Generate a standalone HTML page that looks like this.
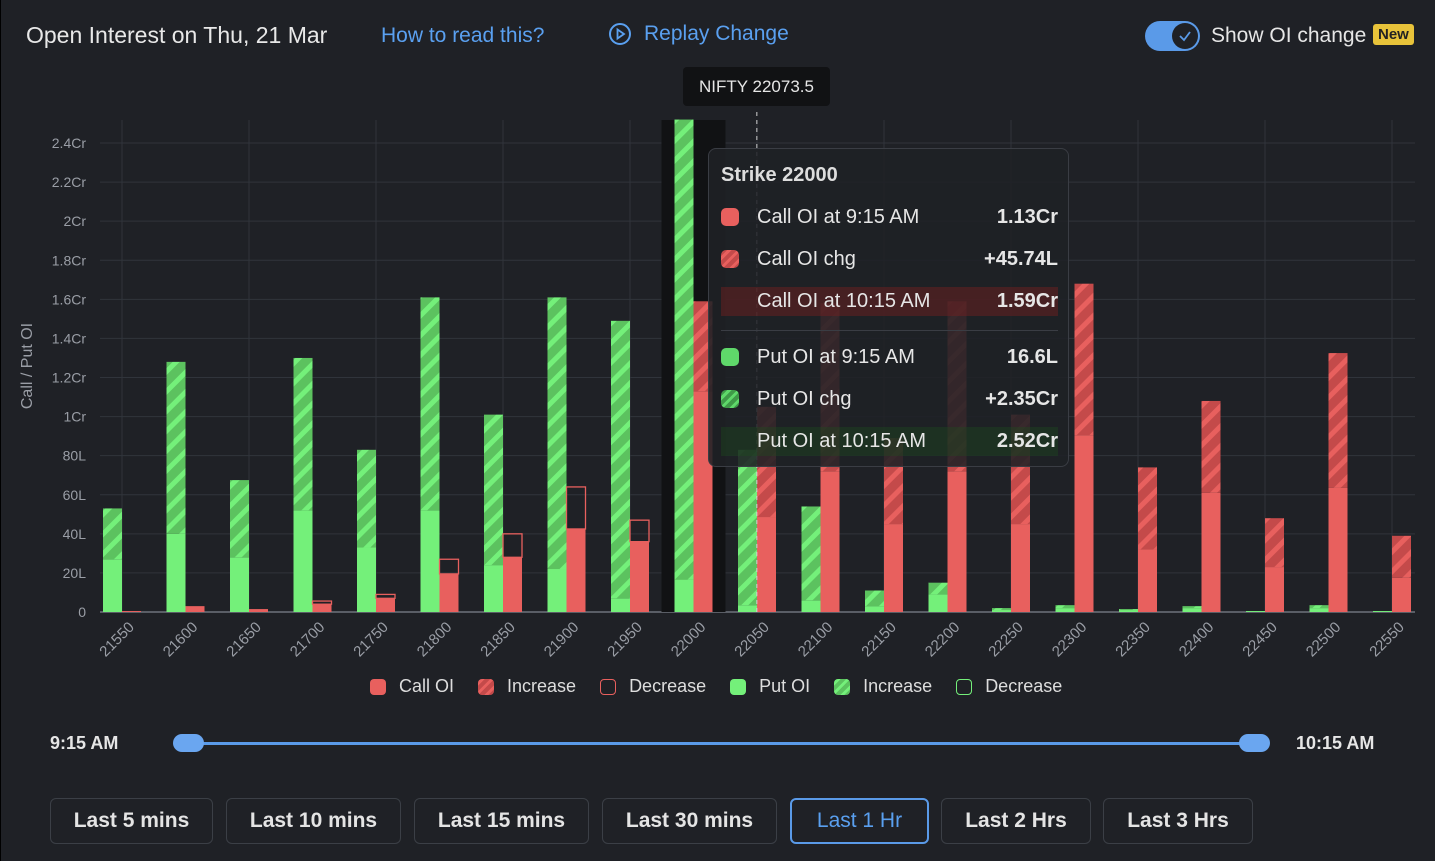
<!DOCTYPE html>
<html><head><meta charset="utf-8"><style>
body{margin:0;width:1435px;height:861px;background:#1f2126;font-family:"Liberation Sans",Roboto,sans-serif;color:#e6e6e6;overflow:hidden;position:relative}
.abs{position:absolute}
.btn{position:absolute;top:798px;height:46px;border:1px solid #3b3f46;border-radius:6px;background:#1f2126;color:#e4e4e4;font-size:21px;font-weight:bold;display:flex;align-items:center;justify-content:center;box-sizing:border-box}
</style></head><body>
<div class="abs" style="left:26px;top:22px;font-size:23px;color:#e8e8e8">Open Interest on Thu, 21 Mar</div>
<div class="abs" style="left:381px;top:24px;font-size:21px;color:#5aa0f0">How to read this?</div>
<div class="abs" style="left:608px;top:22px;font-size:21px;color:#5aa0f0;display:flex;align-items:center;gap:12px"><svg width="24" height="24"><circle cx="12" cy="12" r="10" fill="none" stroke="#5aa0f0" stroke-width="2"/><path d="M9.5 7.5L16 12L9.5 16.5Z" fill="none" stroke="#5aa0f0" stroke-width="1.8"/></svg>Replay Change</div>
<div class="abs" style="left:1145px;top:21px;width:55px;height:30px;border-radius:15px;background:#5a9ae8"><div style="position:absolute;right:2px;top:2px;width:26px;height:26px;border-radius:13px;background:#1f2126;display:flex;align-items:center;justify-content:center"><svg width="14" height="14"><path d="M2 7L6 11L12 3" fill="none" stroke="#5a9ae8" stroke-width="1.8"/></svg></div></div>
<div class="abs" style="left:1211px;top:24px;font-size:21px">Show OI change</div>
<div class="abs" style="left:1373px;top:24px;background:#e8c33a;color:#222;font-size:15px;font-weight:bold;padding:2px 5px;border-radius:3px">New</div>

<svg class="abs" style="left:0;top:0" width="1435" height="861">
<defs>
<pattern id="hg" patternUnits="userSpaceOnUse" width="14" height="14" patternTransform="rotate(45)"><rect width="14" height="14" fill="#5cc25f"/><rect width="5" height="14" fill="#74f07a"/></pattern>
<pattern id="hr" patternUnits="userSpaceOnUse" width="14" height="14" patternTransform="rotate(45)"><rect width="14" height="14" fill="#c44a4a"/><rect width="5" height="14" fill="#e8605e"/></pattern>
</defs>
<g id="grid"></g><g id="bars"></g><g id="labels"></g>
</svg>

<div class="abs" style="left:683px;top:67px;width:147px;height:39px;background:#111214;border-radius:4px;font-size:17px;display:flex;align-items:center;justify-content:center">NIFTY 22073.5</div>

<div class="abs" style="left:708px;top:148px;width:361px;height:319px;background:rgba(31,33,38,0.88);border:1px solid #3a3d44;border-radius:8px;box-sizing:border-box;font-size:20px">
<div style="position:absolute;left:12px;top:15px;font-weight:bold;color:#ddd">Strike 22000</div>
<div style="position:absolute;left:12px;top:57px;width:337px;display:flex;justify-content:space-between"><span><i style="display:inline-block;width:18px;height:18px;border-radius:5px;background:#e8605e;vertical-align:-3px;margin-right:18px"></i>Call OI at 9:15 AM</span><b>1.13Cr</b></div>
<div style="position:absolute;left:12px;top:99px;width:337px;display:flex;justify-content:space-between"><span><i style="display:inline-block;width:18px;height:18px;border-radius:5px;background:repeating-linear-gradient(-45deg,#c44a4a 0 4px,#e8605e 4px 7px);vertical-align:-3px;margin-right:18px"></i>Call OI chg</span><b>+45.74L</b></div>
<div style="position:absolute;left:12px;top:138px;width:337px;height:29px;background:rgba(120,30,30,0.45);display:flex;justify-content:space-between;align-items:center"><span style="padding-left:36px">Call OI at 10:15 AM</span><b>1.59Cr</b></div>
<div style="position:absolute;left:12px;top:181px;width:337px;height:1px;background:#3a3d44"></div>
<div style="position:absolute;left:12px;top:197px;width:337px;display:flex;justify-content:space-between"><span><i style="display:inline-block;width:18px;height:18px;border-radius:5px;background:#5fd86a;vertical-align:-3px;margin-right:18px"></i>Put OI at 9:15 AM</span><b>16.6L</b></div>
<div style="position:absolute;left:12px;top:239px;width:337px;display:flex;justify-content:space-between"><span><i style="display:inline-block;width:18px;height:18px;border-radius:5px;background:repeating-linear-gradient(-45deg,#3f9a48 0 4px,#5fd86a 4px 7px);vertical-align:-3px;margin-right:18px"></i>Put OI chg</span><b>+2.35Cr</b></div>
<div style="position:absolute;left:12px;top:278px;width:337px;height:29px;background:rgba(30,80,30,0.35);display:flex;justify-content:space-between;align-items:center"><span style="padding-left:36px">Put OI at 10:15 AM</span><b>2.52Cr</b></div>
</div>

<div class="abs" style="left:370px;top:676px;font-size:18px;display:flex;gap:0;align-items:center;color:#ddd">
<span style="display:flex;align-items:center;margin-right:24px"><i style="width:16px;height:16px;border-radius:4px;background:#e8605e;margin-right:13px"></i>Call OI</span>
<span style="display:flex;align-items:center;margin-right:24px"><i style="width:16px;height:16px;border-radius:4px;background:repeating-linear-gradient(-45deg,#c44a4a 0 4px,#e8605e 4px 7px);margin-right:13px"></i>Increase</span>
<span style="display:flex;align-items:center;margin-right:24px"><i style="width:14px;height:14px;border-radius:4px;border:1px solid #e8605e;margin-right:13px"></i>Decrease</span>
<span style="display:flex;align-items:center;margin-right:24px"><i style="width:16px;height:16px;border-radius:4px;background:#74f07a;margin-right:13px"></i>Put OI</span>
<span style="display:flex;align-items:center;margin-right:24px"><i style="width:16px;height:16px;border-radius:4px;background:repeating-linear-gradient(-45deg,#5cc25f 0 4px,#74f07a 4px 7px);margin-right:13px"></i>Increase</span>
<span style="display:flex;align-items:center"><i style="width:14px;height:14px;border-radius:4px;border:1px solid #74f07a;margin-right:13px"></i>Decrease</span>
</div>

<div class="abs" style="left:50px;top:733px;font-size:18px;font-weight:bold">9:15 AM</div>
<div class="abs" style="left:1296px;top:733px;font-size:18px;font-weight:bold">10:15 AM</div>
<div class="abs" style="left:188px;top:742px;width:1066px;height:3px;background:#5a9ae8"></div>
<div class="abs" style="left:173px;top:734px;width:31px;height:18px;border-radius:9px;background:#6aa6f0"></div>
<div class="abs" style="left:1239px;top:734px;width:31px;height:18px;border-radius:9px;background:#6aa6f0"></div>

<div class="btn" style="left:50px;width:163px">Last 5 mins</div>
<div class="btn" style="left:226px;width:175px">Last 10 mins</div>
<div class="btn" style="left:414px;width:175px">Last 15 mins</div>
<div class="btn" style="left:602px;width:175px">Last 30 mins</div>
<div class="btn" style="left:790px;width:139px;border:2px solid #5a9ae8;color:#5aa0f0;font-weight:normal">Last 1 Hr</div>
<div class="btn" style="left:941px;width:150px">Last 2 Hrs</div>
<div class="btn" style="left:1103px;width:150px">Last 3 Hrs</div>
<div class="abs" style="left:-1px;top:0;width:2px;height:861px;background:#000"></div>

<script>
const strikes=[21550,21600,21650,21700,21750,21800,21850,21900,21950,22000,22050,22100,22150,22200,22250,22300,22350,22400,22450,22500,22550];
const putStart=[27,40,28,52,33,52,24,22,7,16.6,3.5,6,3,9,1,2,1,2,0.5,2,0.5];
const putEnd=[53,128,67.5,130,83,161,101,161,149,252,83,54,11,15,2,3.5,1.5,3,0.5,3.5,0.5];
const callStart=[0.5,3,1.5,5.6,9,27,40,64,47,113,48.6,72,45,72,45,90.5,32,61,23,63.5,17.5];
const callEnd=[0.5,3,1.5,4,7,19.5,28,42.5,36,159,105,158,89,159,101,168,74,108,48,132.5,39];
const yTicks=[0,20,40,60,80,100,120,140,160,180,200,220,240];
const yTickLabels=["0","20L","40L","60L","80L","1Cr","1.2Cr","1.4Cr","1.6Cr","1.8Cr","2Cr","2.2Cr","2.4Cr"];
const spot=22073.5, hovered=22000;

const NS="http://www.w3.org/2000/svg";
const y0=612,pxPerL=469/240,x0=122,pxPerStrike=63.5/50,bw=19;
const yS=v=>y0-v*pxPerL;
const xS=s=>x0+(s-strikes[0])*pxPerStrike;
function mk(t,a,p){const e=document.createElementNS(NS,t);for(const k in a)e.setAttribute(k,a[k]);p.appendChild(e);return e;}
const grid=document.getElementById('grid'),bars=document.getElementById('bars'),lab=document.getElementById('labels');
yTicks.forEach((v,i)=>{
  const l=mk('line',{x1:100,x2:1415,y1:yS(v),y2:yS(v),stroke:v===0?'#5a5e66':'#30343b','stroke-width':v===0?2:1},grid);
  
  
  const t=mk('text',{x:86,y:yS(v)+5,'text-anchor':'end','font-size':14,fill:'#9a9ea6'},lab);
  t.textContent=yTickLabels[i];
  
  
});
strikes.forEach((s,i)=>{if(i%2===0){const l=mk('line',{x1:xS(s),x2:xS(s),y1:120,y2:612,stroke:'#30343b'},grid);
  
  }});
const yt=mk('text',{x:32,y:366,'text-anchor':'middle','font-size':16,fill:'#9a9ea6',transform:'rotate(-90 32 366)'},lab);
yt.textContent='Call / Put OI';


const hx=xS(hovered);
const hl=mk('rect',{x:hx-32,y:120,width:64,height:492,fill:'#111214'},bars);


function seg(x,a,b,fill,stroke,name){
  const top=Math.max(a,b),bot=Math.min(a,b);
  const r=mk('rect',{x:x,y:yS(top),width:bw,height:Math.max(0.5,(top-bot)*pxPerL),fill:fill,stroke:stroke||'none','stroke-width':1.3},bars);
  
  
}
strikes.forEach((s,i)=>{
  const cx=xS(s);
  const pm=Math.min(putStart[i],putEnd[i]);
  seg(cx-bw,0,pm,'#74f07a',null,'put-oi-bar');
  if(putEnd[i]>putStart[i]) seg(cx-bw,putStart[i],putEnd[i],'url(#hg)',null,'put-increase-bar');
  else if(putEnd[i]<putStart[i]) seg(cx-bw,putEnd[i],putStart[i],'none','#74f07a','put-decrease-bar');
  const cm=Math.min(callStart[i],callEnd[i]);
  seg(cx,0,cm,'#e8605e',null,'call-oi-bar');
  if(callEnd[i]>callStart[i]) seg(cx,callStart[i],callEnd[i],'url(#hr)',null,'call-increase-bar');
  else if(callEnd[i]<callStart[i]) seg(cx,callEnd[i],callStart[i],'none','#e8605e','call-decrease-bar');
  const tx=cx+13;
  const t=mk('text',{x:tx,y:628,'text-anchor':'end','font-size':15,fill:'#9a9ea6',transform:`rotate(-45 ${tx} 628)`},lab);
  t.textContent=s;
  
  
});
const sx=xS(spot)-30;
const sl=mk('line',{x1:sx,x2:sx,y1:112,y2:612,stroke:'#d0d0d0','stroke-dasharray':'4 4'},bars);


</script>
</body></html>
